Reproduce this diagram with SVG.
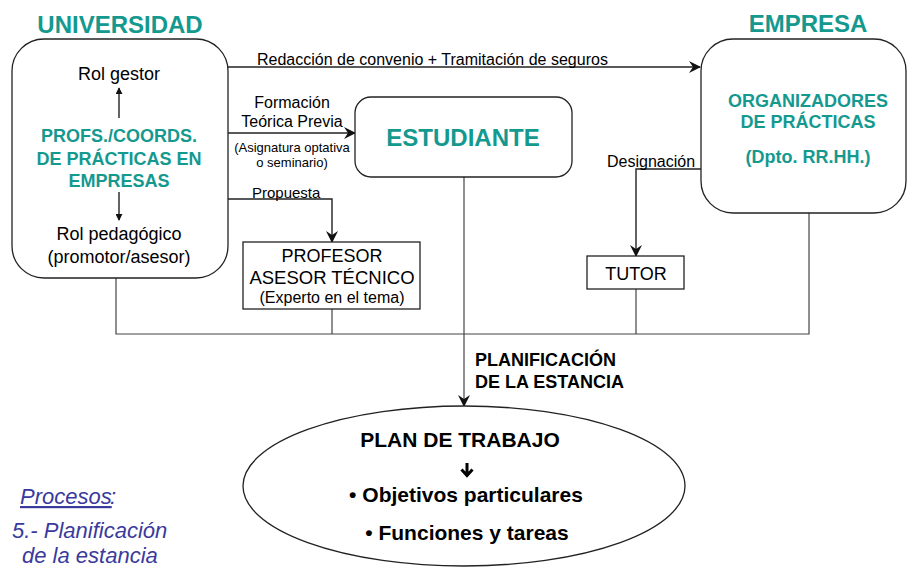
<svg xmlns="http://www.w3.org/2000/svg" width="908" height="567" viewBox="0 0 908 567">
<style>
  text { font-family: "Liberation Sans", Arial, sans-serif; fill: #000; }
  .teal { fill: #14998f; font-weight: bold; }
  .box { fill: #fff; stroke: #222; stroke-width: 1.3; }
  .c { fill: none; stroke: #222; stroke-width: 1.4; }
  .thin { fill: none; stroke: #444; stroke-width: 1.2; }
  .blue { fill: #3a3a9c; font-style: italic; }
  .b { font-weight: bold; }
</style>
<defs>
  <marker id="ah" viewBox="0 0 12 12" refX="11" refY="6" markerWidth="12" markerHeight="12" markerUnits="userSpaceOnUse" orient="auto">
    <path d="M0,0 L12,6 L0,12 L4,6 z" fill="#111"/>
  </marker>
  <marker id="sm" viewBox="0 0 8 8" refX="7" refY="4" markerWidth="7" markerHeight="7" markerUnits="userSpaceOnUse" orient="auto">
    <path d="M0,0 L8,4 L0,8 z" fill="#111"/>
  </marker>
</defs>

<text x="120" y="33" class="teal" font-size="24" text-anchor="middle">UNIVERSIDAD</text>
<text x="808" y="32" class="teal" font-size="24" text-anchor="middle">EMPRESA</text>

<g id="connectors">
  <path class="c" d="M228,67 H700" marker-end="url(#ah)"/>
  <path class="c" d="M228,133 H355" marker-end="url(#ah)"/>
  <path class="c" d="M228,199 H332 V242" marker-end="url(#ah)"/>
  <path class="c" d="M701,169 H636 V256" marker-end="url(#ah)"/>
  <path class="thin" d="M116,278 V334 H809 V213"/>
  <path class="thin" d="M332,309 V334"/>
  <path class="thin" d="M636,289 V334"/>
  <path class="thin" d="M464,177 V406" marker-end="url(#ah)"/>
  <text x="257" y="65" font-size="16">Redacción de convenio + Tramitación de seguros</text>
  <text x="292" y="108" font-size="16" text-anchor="middle">Formación</text>
  <text x="292" y="127" font-size="16" text-anchor="middle">Teórica Previa</text>
  <text x="292" y="152" font-size="13" text-anchor="middle">(Asignatura optativa</text>
  <text x="292" y="167" font-size="13" text-anchor="middle">o seminario)</text>
  <text x="252" y="198" font-size="15">Propuesta</text>
  <text x="607" y="167" font-size="16">Designación</text>
  <text x="475" y="366" font-size="18" class="b">PLANIFICACIÓN</text>
  <text x="475" y="388" font-size="18" class="b">DE LA ESTANCIA</text>
</g>

<g id="universidad">
  <rect class="box" x="12" y="39" width="216" height="239" rx="32"/>
  <text x="119" y="80" font-size="18" text-anchor="middle">Rol gestor</text>
  <path class="c" stroke-width="1.2" d="M119,118 V88" marker-end="url(#sm)"/>
  <text x="119" y="142" class="teal" font-size="18" text-anchor="middle">PROFS./COORDS.</text>
  <text x="119" y="165" class="teal" font-size="18" text-anchor="middle">DE PRÁCTICAS EN</text>
  <text x="119" y="187" class="teal" font-size="18" text-anchor="middle">EMPRESAS</text>
  <path class="c" stroke-width="1.2" d="M119,192 V220" marker-end="url(#sm)"/>
  <text x="119" y="240" font-size="18" text-anchor="middle">Rol pedagógico</text>
  <text x="119" y="263" font-size="18" text-anchor="middle">(promotor/asesor)</text>
</g>

<g id="estudiante">
  <rect class="box" x="355" y="97" width="217" height="80" rx="16"/>
  <text x="463" y="146" class="teal" font-size="24" text-anchor="middle">ESTUDIANTE</text>
</g>

<g id="empresa">
  <rect class="box" x="701" y="39" width="205" height="174" rx="32"/>
  <text x="808" y="107" class="teal" font-size="18" text-anchor="middle">ORGANIZADORES</text>
  <text x="808" y="128" class="teal" font-size="18" text-anchor="middle">DE PRÁCTICAS</text>
  <text x="808" y="163" class="teal" font-size="18" text-anchor="middle">(Dpto. RR.HH.)</text>
</g>

<g id="profesor">
  <rect class="box" x="243" y="242" width="177" height="67"/>
  <text x="332" y="262" font-size="18" text-anchor="middle">PROFESOR</text>
  <text x="332" y="284" font-size="18.5" text-anchor="middle">ASESOR TÉCNICO</text>
  <text x="332" y="303" font-size="16" text-anchor="middle">(Experto en el tema)</text>
</g>

<g id="tutor">
  <rect class="box" x="587" y="256" width="97" height="33"/>
  <text x="636" y="280" font-size="18" text-anchor="middle">TUTOR</text>
</g>

<g id="plan">
  <ellipse class="box" cx="464" cy="486" rx="221" ry="80"/>
  <text x="460" y="447" font-size="21" class="b" text-anchor="middle">PLAN DE TRABAJO</text>
  <path d="M467,463 V475 M461.5,469.5 L467,475.5 L472.5,469.5" fill="none" stroke="#000" stroke-width="3"/>
  <text x="466" y="502" font-size="21" class="b" text-anchor="middle">• Objetivos particulares</text>
  <text x="467" y="540" font-size="21" class="b" text-anchor="middle">• Funciones y tareas</text>
</g>

<g id="procesos">
  <text x="20" y="504" font-size="22" class="blue" text-decoration="underline">Procesos</text>
  <text x="110" y="504" font-size="22" class="blue">:</text>
  <text x="12" y="538" font-size="22" class="blue">5.- Planificación</text>
  <text x="22" y="563" font-size="22" class="blue">de la estancia</text>
</g>
</svg>
